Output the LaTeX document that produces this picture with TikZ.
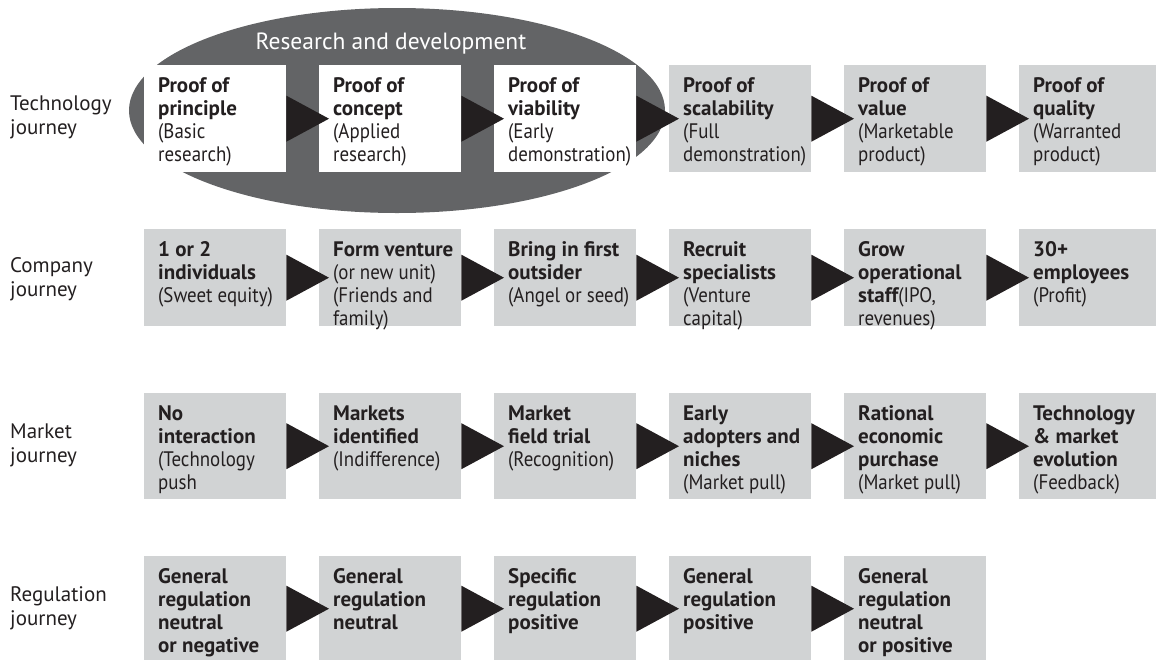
\documentclass[tikz,border=0pt]{standalone}
\usepackage{fontspec}
\setmainfont{PT Sans}
\newfontfamily\condfont[FakeStretch=0.9]{PT Sans}
\usetikzlibrary{calc,shapes.geometric}

\definecolor{boxgray}{HTML}{D1D3D4}
\definecolor{ovalgray}{HTML}{636466}
\definecolor{inkblack}{HTML}{231F20}

% name, x, y, inner height, fill, text
\newcommand\journeystep[6]{
	\node[stagebox, fill=#5] (#1) at (#2,#3) {\parbox[t][#4pt][t]{142pt}{\leftskip=14pt #6}};
}
\newcommand\steparrow[2]{
	\fill[inkblack] ([yshift=23pt]#1.east) -- ($(#2.west |- #1.east)+(10,0)$) -- ([yshift=-23pt]#1.east) -- cycle;
}

\begin{document}
\begin{tikzpicture}[x=1pt, y=-1pt,
	stagebox/.style={anchor=north west, inner xsep=0pt, inner ysep=12.5pt, text=inkblack, font=\fontsize{21}{23}\selectfont},
	rowlabel/.style={anchor=west, align=left, inner sep=0pt, text=inkblack, font=\fontsize{21}{24}\selectfont}]
	\useasboundingbox (0,0) rectangle (1156,659);

	% R&D oval behind the first three steps
	\node[ellipse, fill=ovalgray, inner sep=0pt, minimum width=536, minimum height=205] (rnd) at (397,110.5) {};
	\node[text=white, font=\fontsize{23.5}{25}\selectfont] (rndlbl) at (391,44) {Research and development};

	% Row labels
	\node[rowlabel] (ltech) at (10,117) {Technology\\journey};
	\node[rowlabel] (lcomp) at (10,279) {Company\\journey};
	\node[rowlabel] (lmark) at (10,445) {Market\\journey};
	\node[rowlabel] (lregu) at (10,608) {Regulation\\journey};

	% Technology journey
	\journeystep{t1}{144}{65}{82}{white}{{\bfseries Proof of\\principle}\\{\condfont (Basic\\research)}}
	\journeystep{t2}{319}{65}{82}{white}{{\bfseries Proof of\\concept}\\{\condfont (Applied\\research)}}
	\journeystep{t3}{494}{65}{82}{white}{{\bfseries Proof of\\viability}\\{\condfont (Early\\demonstration)}}
	\journeystep{t4}{669}{65}{82}{boxgray}{{\bfseries Proof of\\scalability}\\{\condfont (Full\\demonstration)}}
	\journeystep{t5}{844}{65}{82}{boxgray}{{\bfseries Proof of\\value}\\{\condfont (Marketable\\product)}}
	\journeystep{t6}{1019}{65}{82}{boxgray}{{\bfseries Proof of\\quality}\\{\condfont (Warranted\\product)}}

	% Company journey
	\journeystep{c1}{144}{229}{72}{boxgray}{{\bfseries 1 or 2\\individuals}\\{\condfont (Sweet equity)}}
	\journeystep{c2}{319}{229}{72}{boxgray}{{\bfseries Form venture}\\{\condfont (or new unit)\\(Friends and\\family)}}
	\journeystep{c3}{494}{229}{72}{boxgray}{{\bfseries Bring in first\\outsider}\\{\condfont (Angel or seed)}}
	\journeystep{c4}{669}{229}{72}{boxgray}{{\bfseries Recruit\\specialists}\\{\condfont (Venture\\capital)}}
	\journeystep{c5}{844}{229}{72}{boxgray}{{\bfseries Grow\\operational\\staff}{\condfont (IPO,\\revenues)}}
	\journeystep{c6}{1019}{229}{72}{boxgray}{{\bfseries 30+\\employees}\\{\condfont (Profit)}}

	% Market journey
	\journeystep{m1}{144}{393}{81}{boxgray}{{\bfseries No\\interaction}\\{\condfont (Technology\\push}}
	\journeystep{m2}{319}{393}{81}{boxgray}{{\bfseries Markets\\identified}\\{\condfont (Indifference)}}
	\journeystep{m3}{494}{393}{81}{boxgray}{{\bfseries Market\\field trial}\\{\condfont (Recognition)}}
	\journeystep{m4}{669}{393}{81}{boxgray}{{\bfseries Early\\adopters and\\niches}\\{\condfont (Market pull)}}
	\journeystep{m5}{844}{393}{81}{boxgray}{{\bfseries Rational\\economic\\purchase}\\{\condfont (Market pull)}}
	\journeystep{m6}{1019}{393}{81}{boxgray}{{\bfseries Technology\\\& market\\evolution}\\{\condfont (Feedback)}}

	% Regulation journey
	\journeystep{r1}{144}{556}{80}{boxgray}{\bfseries General\\regulation\\neutral\\or negative}
	\journeystep{r2}{319}{556}{80}{boxgray}{\bfseries General\\regulation\\neutral}
	\journeystep{r3}{494}{556}{80}{boxgray}{\bfseries Specific\\regulation\\positive}
	\journeystep{r4}{669}{556}{80}{boxgray}{\bfseries General\\regulation\\positive}
	\journeystep{r5}{844}{556}{80}{boxgray}{\bfseries General\\regulation\\neutral\\or positive}

	% Arrow heads between steps
	\foreach \a/\b in {t1/t2,t2/t3,t3/t4,t4/t5,t5/t6,
	                   c1/c2,c2/c3,c3/c4,c4/c5,c5/c6,
	                   m1/m2,m2/m3,m3/m4,m4/m5,m5/m6,
	                   r1/r2,r2/r3,r3/r4,r4/r5}
		{\steparrow{\a}{\b}}
\end{tikzpicture}
\end{document}
